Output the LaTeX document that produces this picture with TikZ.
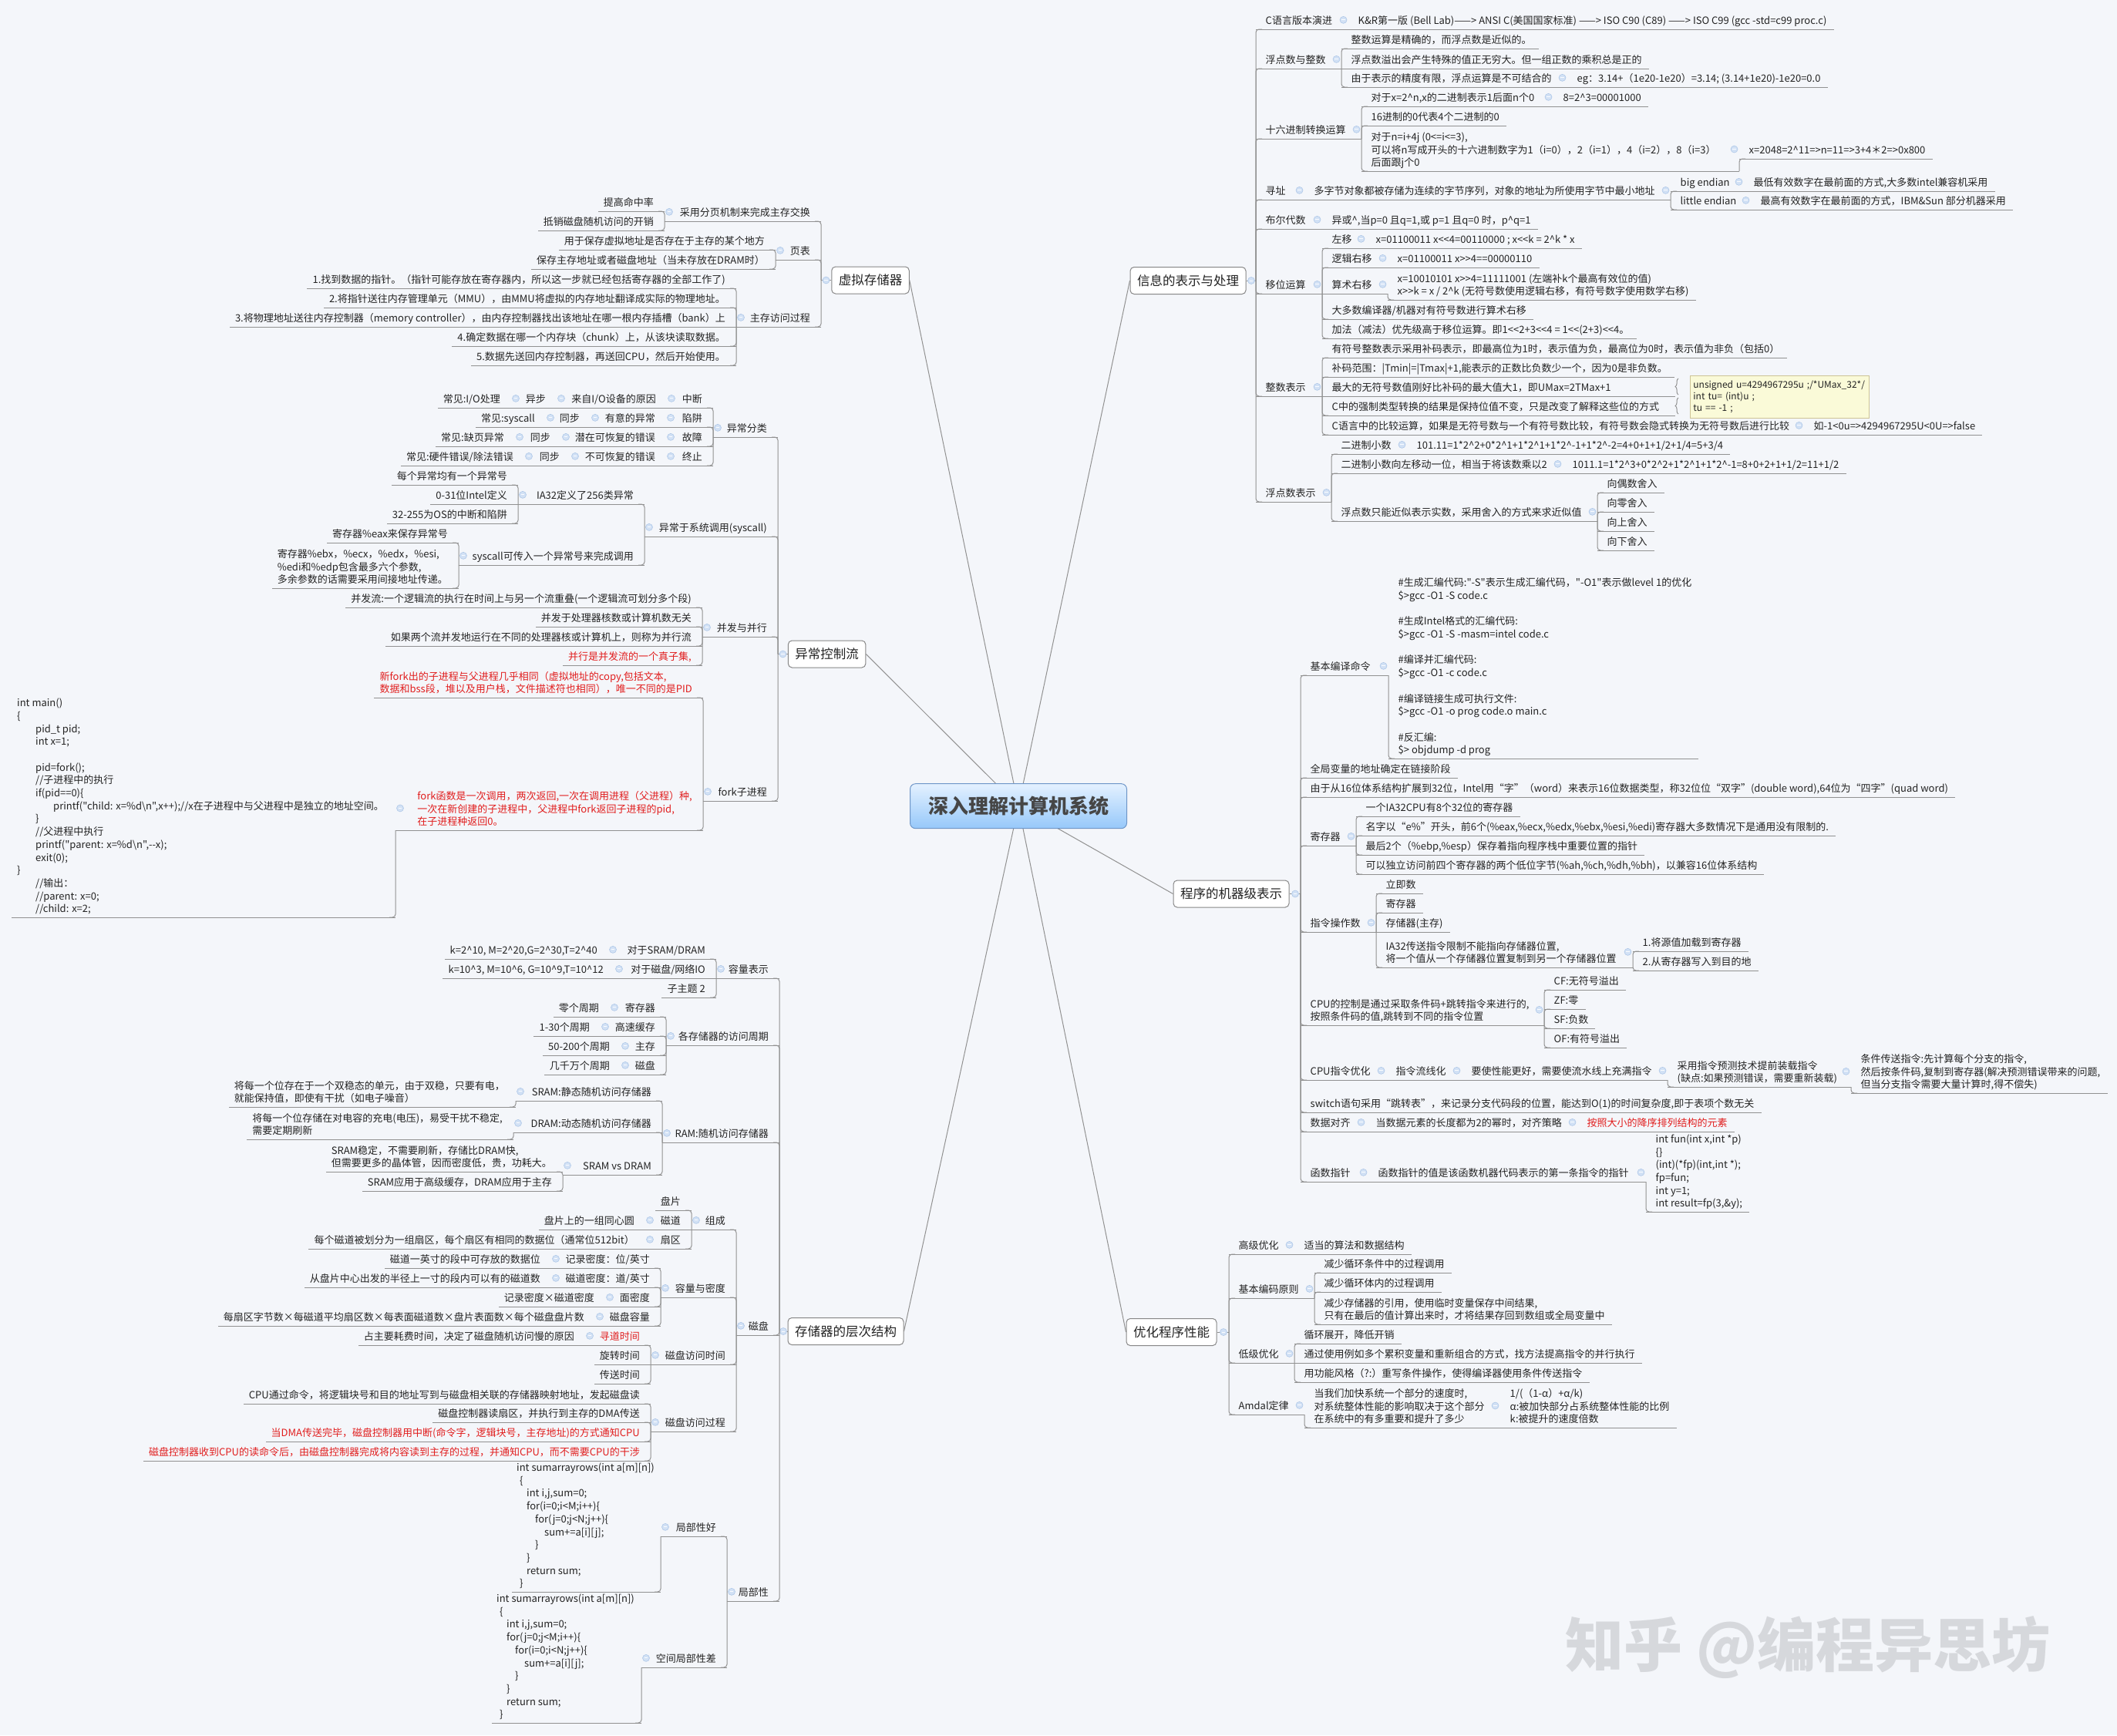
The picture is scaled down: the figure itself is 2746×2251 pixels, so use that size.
\documentclass[tikz,border=0pt]{standalone}
\usepackage{fontspec}
\newfontfamily\cjk{Noto Sans CJK SC}
\usetikzlibrary{calc,decorations.pathreplacing,shadings}
\definecolor{bgc}{RGB}{244,246,250}
\definecolor{linec}{RGB}{145,145,145}
\definecolor{txtc}{RGB}{35,35,35}
\definecolor{redc}{RGB}{225,30,30}
\definecolor{circf}{RGB}{210,225,245}
\definecolor{circb}{RGB}{175,200,232}
\definecolor{circm}{RGB}{250,252,255}
\definecolor{boxb}{RGB}{135,135,135}
\definecolor{rootT}{RGB}{228,241,255}
\definecolor{rootB}{RGB}{150,200,250}
\definecolor{rootb}{RGB}{110,150,200}
\definecolor{rootx}{RGB}{70,70,70}
\definecolor{notef}{RGB}{250,250,216}
\definecolor{noteb}{RGB}{205,195,150}
\definecolor{wmc}{RGB}{214,216,220}
\pgfdeclarelayer{back}\pgfdeclarelayer{bg}\pgfsetlayers{back,bg,main}
\tikzset{
  tx/.style={font=\cjk\fontsize{13}{16.7}\selectfont, text=txtc, inner sep=0pt, align=left},
  rtx/.style={text=redc},
  ul/.style={draw=linec, line width=1pt},
  circ/.style={circle, draw=circb, fill=circf, line width=0.6pt, minimum size=9pt, inner sep=0pt,
    path picture={\draw[draw=circm, line width=0.9pt] ([xshift=-2.3pt]path picture bounding box.center) -- ([xshift=2.3pt]path picture bounding box.center);}},
  mbox/.style={draw=boxb, fill=white, rounded corners=5pt, line width=1pt, font=\cjk\fontsize{16.5}{20}\selectfont, text=txtc, minimum height=35pt, inner xsep=9pt, inner ysep=0pt},
  rootbox/.style={draw=rootb, line width=1pt, rounded corners=7pt, top color=rootT, bottom color=rootB, minimum width=281pt, minimum height=58pt, font=\cjk\bfseries\fontsize{26}{30}\selectfont, text=rootx},
  notebox/.style={draw=noteb, fill=notef, line width=0.8pt, font=\cjk\fontsize{12}{15}\selectfont, text=txtc, align=left, text width=224pt, inner xsep=4pt, inner ysep=4pt, minimum height=55pt, anchor=north west},
}
\newcommand\crt{\char`\^}
% right-side topic: [style]{name}{spine x}{underline y}{text}
\newcommand\tR[5][]{\node[tx,#1,anchor=south west] (#2) at (#3+12.5,#4-1) {#5\strut};\coordinate (#2-s) at (#3,#4);}
\newcommand\tL[5][]{\node[tx,#1,anchor=south east] (#2) at (#3-14,#4-1) {#5\strut};\coordinate (#2-s) at (#3,#4);}
\newcommand\uR[1]{\draw[ul] (#1-s) -- ($(#1.east|-#1-s)+(9,0)$);}
\newcommand\uL[1]{\draw[ul] (#1-s) -- ($(#1.west|-#1-s)+(-7,0)$);}
\newcommand\lfR[5][]{\tR[#1]{#2}{#3}{#4}{#5}\uR{#2}}
\newcommand\lfL[5][]{\tL[#1]{#2}{#3}{#4}{#5}\uL{#2}}
\newcommand\upr[2]{\draw[ul] (#1-s) -- (#2-s|-#1-s);}
\newcommand\cR[2]{\draw[ul,rounded corners=4pt] (#2-s|-#1-s) -- (#2-s) -- ++(8,0);}
\newcommand\cL[2]{\draw[ul,rounded corners=4pt] (#2-s|-#1-s) -- (#2-s) -- ++(-8,0);}
\newcommand\kR[2]{\node[circ] at ($(#2-s|-#1.center)+(-6.5,-2.6)$) {};}
\newcommand\kL[2]{\node[circ] at ($(#2-s|-#1.center)+(6,-2.6)$) {};}
\newcommand\chRs[2]{\upr{#1}{#2}\kR{#1}{#2}}
\newcommand\chLs[2]{\upr{#1}{#2}\kL{#1}{#2}}
\newcommand\chR[3]{\upr{#1}{#2}\kR{#1}{#2}\foreach \cc in {#3}{\cR{#1}{\cc}}}
\newcommand\chL[3]{\upr{#1}{#2}\kL{#1}{#2}\foreach \cc in {#3}{\cL{#1}{\cc}}}
\begin{document}
\begin{tikzpicture}[x=1pt,y=-1pt]
\useasboundingbox (0,0) rectangle (2746,2251);
\begin{pgfonlayer}{back}
\fill[bgc] (0,0) rectangle (2746,2251);
\end{pgfonlayer}

% ================= root and main topics
\node[rootbox] (root) at (1321,1045.7) {深入理解计算机系统};
\node[mbox] (vm) at (1129,363.5) {虚拟存储器};
\node[mbox] (exc) at (1072.6,848.5) {异常控制流};
\node[mbox] (mem) at (1097,1727) {存储器的层次结构};
\node[mbox] (info) at (1541,364) {信息的表示与处理};
\node[mbox] (prog) at (1597,1159.5) {程序的机器级表示};
\node[mbox] (opt) at (1519.5,1728) {优化程序性能};
\begin{pgfonlayer}{bg}
\draw[ul] (root.center) -- (vm.east);
\draw[ul] (root.center) -- (exc.east);
\draw[ul] (root.center) -- (mem.east);
\draw[ul] (root.center) -- (info.west);
\draw[ul] (root.center) -- (prog.west);
\draw[ul] (root.center) -- (opt.west);
\end{pgfonlayer}

% ================= 信息的表示与处理
\coordinate (info-s) at (1629,364);
\draw[ul] (info.east) -- (info-s);
\node[circ] at (1623,364) {};
\tR{I1}{1629}{38}{C语言版本演进}
\lfR{I1a}{1749}{38}{K\&R第一版 (Bell Lab)——> ANSI C(美国国家标准) ——> ISO C90 (C89) ——> ISO C99 (gcc -std=c99 proc.c)}
\chRs{I1}{I1a}
\tR{I2}{1629}{89}{浮点数与整数}
\lfR{I2a}{1740}{63}{整数运算是精确的，而浮点数是近似的。}
\lfR{I2b}{1740}{89}{浮点数溢出会产生特殊的值正无穷大。但一组正数的乘积总是正的}
\tR{I2c}{1740}{113}{由于表示的精度有限，浮点运算是不可结合的}
\lfR{I2c1}{2033}{113}{eg：3.14+（1e20-1e20）=3.14; (3.14+1e20)-1e20=0.0}
\chRs{I2c}{I2c1}
\chR{I2}{I2a}{I2a,I2c}
\tR{I3}{1629}{180}{十六进制转换运算}
\tR{I3a}{1766}{138}{对于x=2\crt n,x的二进制表示1后面n个0}
\lfR{I3a1}{2015}{138}{8=2\crt3=00001000}
\chRs{I3a}{I3a1}
\lfR{I3b}{1766}{163}{16进制的0代表4个二进制的0}
\tR{I3c}{1766}{222}{对于n=i+4j (0<=i<=3),\\可以将n写成开头的十六进制数字为1（i=0），2（i=1），4（i=2），8（i=3）\\后面跟j个0}
\lfR{I3c1}{2256}{206}{x=2048=2\crt11=>n=11=>3+4＊2=>0x800}
\chR{I3c}{I3c1}{I3c1}
\chR{I3}{I3a}{I3a,I3b,I3c}
\tR{I4}{1629}{259}{寻址}
\tR{I4a}{1692}{259}{多字节对象都被存储为连续的字节序列，对象的地址为所使用字节中最小地址}
\tR{I4a1}{2167}{248}{big endian}
\lfR{I4a1a}{2262}{248}{最低有效数字在最前面的方式,大多数intel兼容机采用}
\chRs{I4a1}{I4a1a}
\tR{I4a2}{2167}{272}{little endian}
\lfR{I4a2a}{2271}{272}{最高有效数字在最前面的方式，IBM\&Sun 部分机器采用}
\chRs{I4a2}{I4a2a}
\chR{I4a}{I4a1}{I4a1,I4a2}
\chRs{I4}{I4a}
\tR{I5}{1629}{297}{布尔代数}
\lfR{I5a}{1715}{297}{异或\crt,当p=0 且q=1,或 p=1 且q=0 时，p\crt q=1}
\chRs{I5}{I5a}
\tR{I6}{1629}{381}{移位运算}
\tR{I6a}{1715}{322}{左移}
\lfR{I6a1}{1772}{322}{x=01100011 x<<4=00110000 ; x<<k = 2\crt k * x}
\chRs{I6a}{I6a1}
\tR{I6b}{1715}{347}{逻辑右移}
\lfR{I6b1}{1800}{347}{x=01100011 x>>4==00000110}
\chRs{I6b}{I6b1}
\tR{I6c}{1715}{381}{算术右移}
\lfR{I6c1}{1800}{389}{x=10010101 x>>4=11111001 (左端补k个最高有效位的值)\\x>>k = x / 2\crt k (无符号数使用逻辑右移，有符号数字使用数学右移)}
\chR{I6c}{I6c1}{I6c1}
\lfR{I6d}{1715}{414}{大多数编译器/机器对有符号数进行算术右移}
\lfR{I6e}{1715}{439}{加法（减法）优先级高于移位运算。即1<<2+3<<4 = 1<<(2+3)<<4。}
\chR{I6}{I6a}{I6a,I6b,I6d,I6e}
\tR{I7}{1629}{514}{整数表示}
\lfR{I7a}{1715}{464}{有符号整数表示采用补码表示，即最高位为1时，表示值为负，最高位为0时，表示值为非负（包括0）}
\lfR{I7b}{1715}{489}{补码范围：|Tmin|=|Tmax|+1,能表示的正数比负数少一个，因为0是非负数。}
\tR{I7c}{1715}{514}{最大的无符号数值刚好比补码的最大值大1，即UMax=2TMax+1}
\coordinate (I7c-e) at (2173,514);
\draw[ul] (I7c-s) -- (I7c-e);
\tR{I7d}{1715}{539}{C中的强制类型转换的结果是保持位值不变，只是改变了解释这些位的方式}
\coordinate (I7d-e) at (2173,539);
\draw[ul] (I7d-s) -- (I7d-e);
\tR{I7e}{1715}{564}{C语言中的比较运算，如果是无符号数与一个有符号数比较，有符号数会隐式转换为无符号数后进行比较}
\lfR{I7e1}{2340}{564}{如-1<0u=>4294967295U<0U=>false}
\chRs{I7e}{I7e1}
\chR{I7}{I7a}{I7a,I7b,I7d,I7e}
\node[notebox] (note) at (2192,487) {unsigned u=4294967295u ;/*UMax\_32*/\\int tu= (int)u ;\\tu == -1 ;};
\coordinate (br1a) at (2177,512);\coordinate (br1b) at (2177,491);
\coordinate (br2a) at (2177,537);\coordinate (br2b) at (2177,516);
\draw[ul,decorate,decoration={brace,amplitude=4pt}] (br1a) -- (br1b);
\draw[ul,decorate,decoration={brace,amplitude=4pt}] (br2a) -- (br2b);
\tR{I8}{1629}{651}{浮点数表示}
\tR{I8a}{1727}{589}{二进制小数}
\lfR{I8a1}{1825}{589}{101.11=1*2\crt2+0*2\crt1+1*2\crt1+1*2\crt-1+1*2\crt-2=4+0+1+1/2+1/4=5+3/4}
\chRs{I8a}{I8a1}
\tR{I8b}{1727}{614}{二进制小数向左移动一位，相当于将该数乘以2}
\lfR{I8b1}{2027}{614}{1011.1=1*2\crt3+0*2\crt2+1*2\crt1+1*2\crt-1=8+0+2+1+1/2=11+1/2}
\chRs{I8b}{I8b1}
\tR{I8c}{1727}{676}{浮点数只能近似表示实数，采用舍入的方式来求近似值}
\lfR{I8c1}{2072}{639}{向偶数舍入}
\lfR{I8c2}{2072}{664}{向零舍入}
\lfR{I8c3}{2072}{689}{向上舍入}
\lfR{I8c4}{2072}{714}{向下舍入}
\chR{I8c}{I8c1}{I8c1,I8c2,I8c3,I8c4}
\chR{I8}{I8a}{I8a,I8b,I8c}
\foreach \m in {I1,I2,I3,I4,I5,I6,I7,I8}{\cR{info}{\m}}

% ================= 程序的机器级表示
\coordinate (prog-s) at (1687,1159.5);
\draw[ul] (prog.east) -- (prog-s);
\node[circ] at (1680,1159.5) {};
\tR{P1}{1687}{876}{基本编译命令}
\lfR{P1a}{1801}{984}{\#生成汇编代码:"-S"表示生成汇编代码，"-O1"表示做level 1的优化\\\$>gcc -O1 -S code.c\\\strut\\\#生成Intel格式的汇编代码:\\\$>gcc -O1 -S -masm=intel code.c\\\strut\\\#编译并汇编代码:\\\$>gcc -O1 -c code.c\\\strut\\\#编译链接生成可执行文件:\\\$>gcc -O1 -o prog code.o main.c\\\strut\\\#反汇编:\\\$> objdump -d prog}
\chR{P1}{P1a}{P1a}
\lfR{P2}{1687}{1009}{全局变量的地址确定在链接阶段}
\lfR{P3}{1687}{1034}{由于从16位体系结构扩展到32位，Intel用“字”（word）来表示16位数据类型，称32位位“双字”(double word),64位为“四字”(quad word)}
\tR{P4}{1687}{1097}{寄存器}
\lfR{P4a}{1759}{1059}{一个IA32CPU有8个32位的寄存器}
\lfR{P4b}{1759}{1084}{名字以“e\%”开头，前6个(\%eax,\%ecx,\%edx,\%ebx,\%esi,\%edi)寄存器大多数情况下是通用没有限制的.}
\lfR{P4c}{1759}{1109}{最后2个（\%ebp,\%esp）保存着指向程序栈中重要位置的指针}
\lfR{P4d}{1759}{1134}{可以独立访问前四个寄存器的两个低位字节(\%ah,\%ch,\%dh,\%bh)，以兼容16位体系结构}
\chR{P4}{P4a}{P4a,P4b,P4c,P4d}
\tR{P5}{1687}{1209}{指令操作数}
\lfR{P5a}{1785}{1159}{立即数}
\lfR{P5b}{1785}{1184}{寄存器}
\lfR{P5c}{1785}{1209}{存储器(主存)}
\tR{P5d}{1785}{1255}{IA32传送指令限制不能指向存储器位置,\\将一个值从一个存储器位置复制到另一个存储器位置}
\lfR{P5d1}{2118}{1234}{1.将源值加载到寄存器}
\lfR{P5d2}{2118}{1259}{2.从寄存器写入到目的地}
\chR{P5d}{P5d1}{P5d1,P5d2}
\chR{P5}{P5a}{P5a,P5b,P5d}
\tR{P6}{1687}{1330}{CPU的控制是通过采取条件码+跳转指令来进行的,\\按照条件码的值,跳转到不同的指令位置}
\lfR{P6a}{2003}{1284}{CF:无符号溢出}
\lfR{P6b}{2003}{1309}{ZF:零}
\lfR{P6c}{2003}{1334}{SF:负数}
\lfR{P6d}{2003}{1359}{OF:有符号溢出}
\chR{P6}{P6a}{P6a,P6b,P6c,P6d}
\tR{P7}{1687}{1401}{CPU指令优化}
\tR{P7a}{1798}{1401}{指令流线化}
\tR{P7b}{1896}{1401}{要使性能更好，需要使流水线上充满指令}
\tR{P7c}{2163}{1410}{采用指令预测技术提前装载指令\\(缺点:如果预测错误，需要重新装载)}
\lfR{P7d}{2401}{1418}{条件传送指令:先计算每个分支的指令,\\然后按条件码,复制到寄存器(解决预测错误带来的问题,\\但当分支指令需要大量计算时,得不偿失)}
\chR{P7c}{P7d}{P7d}
\chR{P7b}{P7c}{P7c}
\chRs{P7a}{P7b}
\chRs{P7}{P7a}
\lfR{P8}{1687}{1443}{switch语句采用“跳转表”，来记录分支代码段的位置，能达到O(1)的时间复杂度,即于表项个数无关}
\tR{P9}{1687}{1468}{数据对齐}
\tR{P9a}{1772}{1468}{当数据元素的长度都为2的幂时，对齐策略}
\lfR[rtx]{P9b}{2046}{1468}{按照大小的降序排列结构的元素}
\chRs{P9a}{P9b}
\chRs{P9}{P9a}
\tR{P10}{1687}{1533}{函数指针}
\tR{P10a}{1775}{1533}{函数指针的值是该函数机器代码表示的第一条指令的指针}
\lfR{P10b}{2135}{1572}{int fun(int x,int *p)\\\{\}\\(int)(*fp)(int,int *);\\fp=fun;\\int y=1;\\int result=fp(3,\&y);}
\chR{P10a}{P10b}{P10b}
\chRs{P10}{P10a}
\foreach \m in {P1,P2,P3,P4,P5,P6,P7,P8,P9,P10}{\cR{prog}{\m}}

% ================= 优化程序性能
\coordinate (opt-s) at (1594,1728);
\draw[ul] (opt.east) -- (opt-s);
\node[circ] at (1587,1728) {};
\tR{O1}{1594}{1627}{高级优化}
\lfR{O1a}{1679}{1627}{适当的算法和数据结构}
\chRs{O1}{O1a}
\tR{O2}{1594}{1684}{基本编码原则}
\lfR{O2a}{1705}{1651}{减少循环条件中的过程调用}
\lfR{O2b}{1705}{1676}{减少循环体内的过程调用}
\lfR{O2c}{1705}{1718}{减少存储器的引用，使用临时变量保存中间结果,\\只有在最后的值计算出来时，才将结果存回到数组或全局变量中}
\chR{O2}{O2a}{O2a,O2b,O2c}
\tR{O3}{1594}{1768}{低级优化}
\lfR{O3a}{1679}{1743}{循环展开，降低开销}
\lfR{O3b}{1679}{1768}{通过使用例如多个累积变量和重新组合的方式，找方法提高指令的并行执行}
\lfR{O3c}{1679}{1793}{用功能风格（?:）重写条件操作，使得编译器使用条件传送指令}
\chR{O3}{O3a}{O3a,O3c}
\tR{O4}{1594}{1835}{Amdal定律}
\tR{O4a}{1692}{1852}{当我们加快系统一个部分的速度时,\\对系统整体性能的影响取决于这个部分\\在系统中的有多重要和提升了多少}
\lfR{O4b}{1946}{1852}{1/(（1-α）+α/k)\\α:被加快部分占系统整体性能的比例\\k:被提升的速度倍数}
\chRs{O4a}{O4b}
\chR{O4}{O4a}{O4a}
\foreach \m in {O1,O2,O3,O4}{\cR{opt}{\m}}

% ================= 虚拟存储器
\coordinate (vm-s) at (1065,363.5);
\draw[ul] (vm.west) -- (vm-s);
\node[circ] at (1071.5,363.5) {};
\tL{V1}{1065}{287}{采用分页机制来完成主存交换}
\lfL{V1a}{862}{274}{提高命中率}
\lfL{V1b}{862}{299}{抵销磁盘随机访问的开销}
\chL{V1}{V1a}{V1a,V1b}
\tL{V2}{1065}{337}{页表}
\lfL{V2a}{1006}{324}{用于保存虚拟地址是否存在于主存的某个地方}
\lfL{V2b}{1006}{349}{保存主存地址或者磁盘地址（当未存放在DRAM时）}
\chL{V2}{V2a}{V2a,V2b}
\tL{V3}{1065}{424}{主存访问过程}
\lfL{V3a}{955}{374}{1.找到数据的指针。（指针可能存放在寄存器内，所以这一步就已经包括寄存器的全部工作了)}
\lfL{V3b}{955}{399}{2.将指针送往内存管理单元（MMU），由MMU将虚拟的内存地址翻译成实际的物理地址。}
\lfL{V3c}{955}{424}{3.将物理地址送往内存控制器（memory controller），由内存控制器找出该地址在哪一根内存插槽（bank）上}
\lfL{V3d}{955}{449}{4.确定数据在哪一个内存块（chunk）上，从该块读取数据。}
\lfL{V3e}{955}{474}{5.数据先送回内存控制器，再送回CPU，然后开始使用。}
\chL{V3}{V3a}{V3a,V3b,V3d,V3e}
\foreach \m in {V1,V2,V3}{\cL{vm}{\m}}

% ================= 异常控制流
\coordinate (exc-s) at (1009,848.5);
\draw[ul] (exc.west) -- (exc-s);
\node[circ] at (1015.5,848.5) {};
\tL{E1}{1009}{567}{异常分类}
\tL{E1a}{925}{529}{中断}\tL{E1a1}{865}{529}{来自I/O设备的原因}\tL{E1a2}{722}{529}{异步}\lfL{E1a3}{663}{529}{常见:I/O处理}
\chLs{E1a}{E1a1}\chLs{E1a1}{E1a2}\chLs{E1a2}{E1a3}
\tL{E1b}{925}{554}{陷阱}\tL{E1b1}{864}{554}{有意的异常}\tL{E1b2}{766}{554}{同步}\lfL{E1b3}{708}{554}{常见:syscall}
\chLs{E1b}{E1b1}\chLs{E1b1}{E1b2}\chLs{E1b2}{E1b3}
\tL{E1c}{925}{579}{故障}\tL{E1c1}{864}{579}{潜在可恢复的错误}\tL{E1c2}{728}{579}{同步}\lfL{E1c3}{668}{579}{常见:缺页异常}
\chLs{E1c}{E1c1}\chLs{E1c1}{E1c2}\chLs{E1c2}{E1c3}
\tL{E1d}{925}{604}{终止}\tL{E1d1}{864}{604}{不可恢复的错误}\tL{E1d2}{740}{604}{同步}\lfL{E1d3}{680}{604}{常见:硬件错误/除法错误}
\chLs{E1d}{E1d1}\chLs{E1d1}{E1d2}\chLs{E1d2}{E1d3}
\chL{E1}{E1a}{E1a,E1b,E1c,E1d}
\tL{E2}{1009}{696}{异常于系统调用(syscall)}
\tL{E2a}{836}{654}{IA32定义了256类异常}
\lfL{E2a1}{672}{629}{每个异常均有一个异常号}
\lfL{E2a2}{672}{654}{0-31位Intel定义}
\lfL{E2a3}{672}{679}{32-255为OS的中断和陷阱}
\chL{E2a}{E2a1}{E2a1,E2a3}
\tL{E2b}{836}{733}{syscall可传入一个异常号来完成调用}
\lfL{E2b1}{595}{704}{寄存器\%eax来保存异常号}
\lfL{E2b2}{595}{763}{寄存器\%ebx，\%ecx，\%edx，\%esi,\\\%edi和\%edp包含最多六个参数,\\多余参数的话需要采用间接地址传递。}
\chL{E2b}{E2b1}{E2b1,E2b2}
\chL{E2}{E2a}{E2a,E2b}
\tL{E3}{1009}{826}{并发与并行}
\lfL{E3a}{911}{788}{并发流:一个逻辑流的执行在时间上与另一个流重叠(一个逻辑流可划分多个段)}
\lfL{E3b}{911}{813}{并发于处理器核数或计算机数无关}
\lfL{E3c}{911}{838}{如果两个流并发地运行在不同的处理器核或计算机上，则称为并行流}
\lfL[rtx]{E3d}{911}{863}{并行是并发流的一个真子集,}
\chL{E3}{E3a}{E3a,E3b,E3c,E3d}
\tL{E4}{1009}{1039}{fork子进程}
\lfL[rtx]{E4a}{912}{905}{新fork出的子进程与父进程几乎相同（虚拟地址的copy,包括文本,\\数据和bss段，堆以及用户栈，文件描述符也相同），唯一不同的是PID}
\tL[rtx]{E4b}{912}{1077}{fork函数是一次调用，两次返回,一次在调用进程（父进程）种,\\一次在新创建的子进程中，父进程中fork返回子进程的pid,\\在子进程种返回0。}
\node[tx,anchor=south west] (E4b1) at (22,1189) {int main()\\\{\\\hspace*{24pt}pid\_t pid;\\\hspace*{24pt}int x=1;\\\strut\\\hspace*{24pt}pid=fork();\\\hspace*{24pt}//子进程中的执行\\\hspace*{24pt}if(pid==0)\{\\\hspace*{47pt}printf("child: x=\%d\textbackslash n",x++);//x在子进程中与父进程中是独立的地址空间。\\\hspace*{24pt}\}\\\hspace*{24pt}//父进程中执行\\\hspace*{24pt}printf("parent: x=\%d\textbackslash n",-{}-x);\\\hspace*{24pt}exit(0);\\\}\\\hspace*{24pt}//输出：\\\hspace*{24pt}//parent: x=0;\\\hspace*{24pt}//child:  x=2;\strut};
\coordinate (E4b1-s) at (513,1190);
\coordinate (E4b1-e) at (15,1190);
\draw[ul] (E4b1-s) -- (E4b1-e);
\chL{E4b}{E4b1}{E4b1}
\chL{E4}{E4a}{E4a,E4b}
\foreach \m in {E1,E2,E3,E4}{\cL{exc}{\m}}

% ================= 存储器的层次结构
\coordinate (mem-s) at (1011,1727);
\draw[ul] (mem.west) -- (mem-s);
\node[circ] at (1016,1727) {};
\tL{S1}{1011}{1269}{容量表示}
\tL{S1a}{929}{1244}{对于SRAM/DRAM}
\lfL{S1a1}{789}{1244}{k=2\crt10, M=2\crt20,G=2\crt30,T=2\crt40}
\chLs{S1a}{S1a1}
\tL{S1b}{929}{1269}{对于磁盘/网络IO}
\lfL{S1b1}{797}{1269}{k=10\crt3, M=10\crt6, G=10\crt9,T=10\crt12}
\chLs{S1b}{S1b1}
\lfL{S1c}{929}{1294}{子主题 2}
\chL{S1}{S1a}{S1a,S1c}
\tL{S2}{1011}{1356}{各存储器的访问周期}
\tL{S2a}{864}{1319}{寄存器}\lfL{S2a1}{791}{1319}{零个周期}\chLs{S2a}{S2a1}
\tL{S2b}{864}{1344}{高速缓存}\lfL{S2b1}{779}{1344}{1-30个周期}\chLs{S2b}{S2b1}
\tL{S2c}{864}{1369}{主存}\lfL{S2c1}{805}{1369}{50-200个周期}\chLs{S2c}{S2c1}
\tL{S2d}{864}{1394}{磁盘}\lfL{S2d1}{805}{1394}{几千万个周期}\chLs{S2d}{S2d1}
\chL{S2}{S2a}{S2a,S2b,S2c,S2d}
\tL{S3}{1011}{1482}{RAM:随机访问存储器}
\tL{S3a}{859}{1428}{SRAM:静态随机访问存储器}
\lfL{S3a1}{669}{1436}{将每一个位存在于一个双稳态的单元，由于双稳，只要有电，\\就能保持值，即使有干扰（如电子噪音）}
\chL{S3a}{S3a1}{S3a1}
\tL{S3b}{859}{1469}{DRAM:动态随机访问存储器}
\lfL{S3b1}{666}{1478}{将每一个位存储在对电容的充电(电压)，易受干扰不稳定,\\需要定期刷新}
\chL{S3b}{S3b1}{S3b1}
\tL{S3c}{859}{1524}{SRAM vs DRAM}
\lfL{S3c1}{730}{1520}{SRAM稳定，不需要刷新，存储比DRAM快,\\但需要更多的晶体管，因而密度低，贵，功耗大。}
\lfL{S3c2}{730}{1545}{SRAM应用于高级缓存，DRAM应用于主存}
\chL{S3c}{S3c1}{S3c1,S3c2}
\chL{S3}{S3a}{S3a,S3b,S3c}
\tL{S4}{1011}{1732}{磁盘}
\tL{S4a}{955}{1595}{组成}
\lfL{S4a1}{897}{1570}{盘片}
\tL{S4a2}{897}{1595}{磁道}\lfL{S4a2a}{837}{1595}{盘片上的一组同心圆}\chLs{S4a2}{S4a2a}
\tL{S4a3}{897}{1620}{扇区}\lfL{S4a3a}{837}{1620}{每个磁道被划分为一组扇区，每个扇区有相同的数据位（通常位512bit）}\chLs{S4a3}{S4a3a}
\chL{S4a}{S4a1}{S4a1,S4a3}
\tL{S4b}{955}{1683}{容量与密度}
\tL{S4b1}{857}{1645}{记录密度：位/英寸}\lfL{S4b1a}{715}{1645}{磁道一英寸的段中可存放的数据位}\chLs{S4b1}{S4b1a}
\tL{S4b2}{857}{1670}{磁道密度：道/英寸}\lfL{S4b2a}{715}{1670}{从盘片中心出发的半径上一寸的段内可以有的磁道数}\chLs{S4b2}{S4b2a}
\tL{S4b3}{857}{1695}{面密度}\lfL{S4b3a}{785}{1695}{记录密度×磁道密度}\chLs{S4b3}{S4b3a}
\tL{S4b4}{857}{1720}{磁盘容量}\lfL{S4b4a}{772}{1720}{每扇区字节数×每磁道平均扇区数×每表面磁道数×盘片表面数×每个磁盘盘片数}\chLs{S4b4}{S4b4a}
\chL{S4b}{S4b1}{S4b1,S4b2,S4b3,S4b4}
\tL{S4c}{955}{1770}{磁盘访问时间}
\tL[rtx]{S4c1}{844}{1745}{寻道时间}\lfL{S4c1a}{759}{1745}{占主要耗费时间，决定了磁盘随机访问慢的原因}\chLs{S4c1}{S4c1a}
\lfL{S4c2}{844}{1770}{旋转时间}
\lfL{S4c3}{844}{1795}{传送时间}
\chL{S4c}{S4c1}{S4c1,S4c3}
\tL{S4d}{955}{1857}{磁盘访问过程}
\lfL{S4d1}{844}{1821}{CPU通过命令，将逻辑块号和目的地址写到与磁盘相关联的存储器映射地址，发起磁盘读}
\lfL{S4d2}{844}{1845}{磁盘控制器读扇区，并执行到主存的DMA传送}
\lfL[rtx]{S4d3}{844}{1870}{当DMA传送完毕，磁盘控制器用中断(命令字，逻辑块号，主存地址)的方式通知CPU}
\lfL[rtx]{S4d4}{844}{1895}{磁盘控制器收到CPU的读命令后，由磁盘控制器完成将内容读到主存的过程，并通知CPU，而不需要CPU的干涉}
\chL{S4d}{S4d1}{S4d1,S4d2,S4d3,S4d4}
\chL{S4}{S4a}{S4a,S4b,S4c,S4d}
\tL{S5}{1011}{2077}{局部性}
\tL{S5a}{943}{1993}{局部性好}
\node[tx,anchor=south west] (S5a1) at (670,2064) {int sumarrayrows(int a[m][n])\\\hspace*{4pt}\{\\\hspace*{13pt}int i,j,sum=0;\\\hspace*{13pt}for(i=0;i<M;i++)\{\\\hspace*{24pt}for(j=0;j<N;j++)\{\\\hspace*{36pt}sum+=a[i][j];\\\hspace*{24pt}\}\\\hspace*{13pt}\}\\\hspace*{13pt}return sum;\\\hspace*{4pt}\}\strut};
\coordinate (S5a1-s) at (857,2065);
\coordinate (S5a1-e) at (664,2065);
\draw[ul] (S5a1-s) -- (S5a1-e);
\chL{S5a}{S5a1}{S5a1}
\tL{S5b}{943}{2163}{空间局部性差}
\node[tx,anchor=south west] (S5b1) at (644,2234) {int sumarrayrows(int a[m][n])\\\hspace*{4pt}\{\\\hspace*{13pt}int i,j,sum=0;\\\hspace*{13pt}for(j=0;j<M;i++)\{\\\hspace*{24pt}for(i=0;i<N;j++)\{\\\hspace*{36pt}sum+=a[i][j];\\\hspace*{24pt}\}\\\hspace*{13pt}\}\\\hspace*{13pt}return sum;\\\hspace*{4pt}\}\strut};
\coordinate (S5b1-s) at (832,2235);
\coordinate (S5b1-e) at (638,2235);
\draw[ul] (S5b1-s) -- (S5b1-e);
\chL{S5b}{S5b1}{S5b1}
\chL{S5}{S5a}{S5a,S5b}
\foreach \m in {S1,S2,S3,S4,S5}{\cL{mem}{\m}}

% ================= watermark
\node[font=\cjk\bfseries\fontsize{76}{80}\selectfont, text=wmc, inner sep=0pt] (wm) at (2345,2137) {知乎 @编程异思坊};
\end{tikzpicture}
\end{document}
